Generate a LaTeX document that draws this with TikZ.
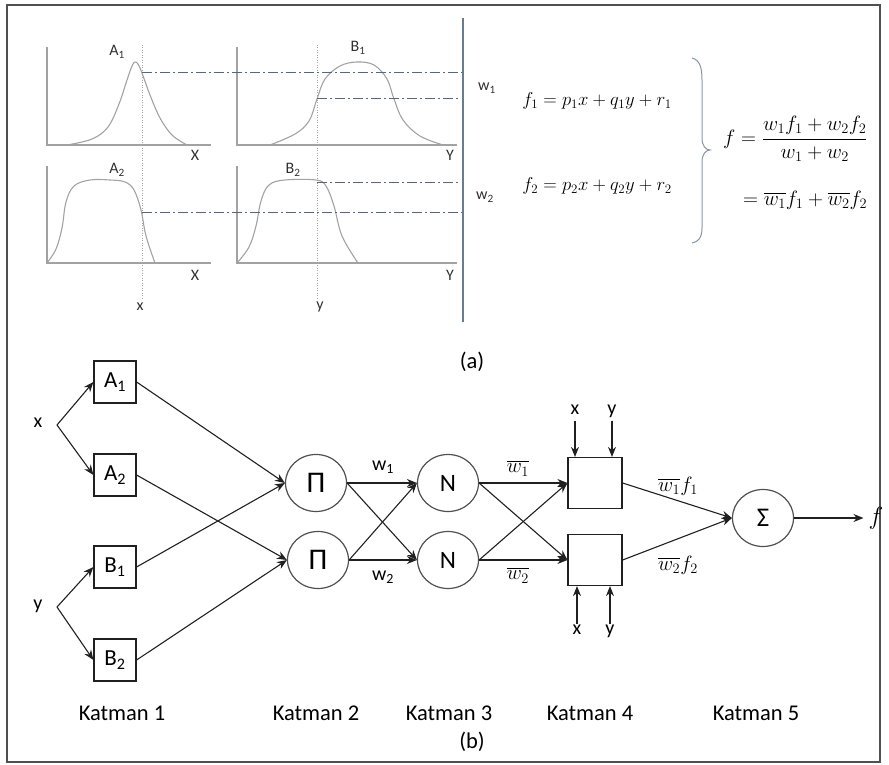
\documentclass[tikz,border=0pt]{standalone}
\usepackage{amsmath}
\usepackage{graphicx}
\usepackage{fontspec}
\setmainfont{Carlito}
\usepackage{tikz}
\usetikzlibrary{arrows.meta,shapes.geometric}

\definecolor{framegray}{HTML}{505050}
\definecolor{curvegray}{HTML}{A2A2A2}
\definecolor{labgray}{HTML}{303030}
\definecolor{dashblue}{HTML}{56677C}
\definecolor{sepblue}{HTML}{6A7A90}
\definecolor{netline}{HTML}{202020}
\definecolor{circgray}{HTML}{505050}

\tikzset{
  katbox/.style={draw=netline,line width=1.2pt,minimum width=42pt,minimum height=42pt,inner sep=0pt,font=\fontsize{23}{26}\selectfont},
  katcirc/.style={ellipse,draw=circgray,line width=1.2pt,minimum width=61pt,minimum height=57pt,inner sep=0pt,font=\fontsize{25}{28}\selectfont},
  rulebox/.style={draw=netline,line width=1.2pt,minimum width=54pt,minimum height=51pt,inner sep=0pt},
  conn/.style={->,draw=netline,line width=1.1pt},
  lbl/.style={font=\fontsize{20}{24}\selectfont,inner sep=1pt,text height=1.5ex,text depth=.3ex},
  laylbl/.style={font=\fontsize{22.5}{26}\selectfont,inner sep=1pt},
  plotlbl/.style={font=\fontsize{16}{19}\selectfont,text=labgray,inner sep=1pt},
  mathlbl/.style={font=\fontsize{20}{24}\selectfont,inner sep=1pt},
  mfcurve/.style={draw=curvegray,line width=1.1pt},
  cutline/.style={draw=dashblue,line width=1pt,dash pattern=on 10pt off 3pt on 2pt off 3pt},
  guideline/.style={draw=curvegray,line width=0.8pt,dash pattern=on 1pt off 1.5pt},
}

\begin{document}
\begin{tikzpicture}[x=1pt,y=-1pt,>={Stealth[length=10pt,width=8pt]}]
\useasboundingbox (0,0) rectangle (889,765);
\draw[framegray,line width=1.5pt] (7,5) rectangle (880,762);

% (a) uyelik fonksiyonlari
\draw[mfcurve] (47,47) -- (47,145) -- (211,145);
\draw[mfcurve] (237,47) -- (237,145) -- (457,145);
\draw[mfcurve] (47,166) -- (47,263) -- (211,263);
\draw[mfcurve] (237,166) -- (237,263) -- (457,263);

\draw[mfcurve] plot[smooth,tension=0.6] coordinates {(67,145) (92,139) (108,127) (119,104) (127,80) (132,66) (135,62) (138,64) (142,73) (150,95) (160,118) (172,135) (187,145)};
\draw[mfcurve] plot[smooth,tension=0.6] coordinates {(270,145) (295,134) (309,121) (317,99) (325,79) (340,66) (357,62) (374,65) (387,79) (394,99) (403,120) (420,136) (443,145)};
\draw[mfcurve] plot[smooth,tension=0.6] coordinates {(47,263) (56,249) (62,228) (66,202) (74,186) (90,180) (110,180) (125,182) (134,190) (141,210) (146,236) (155,263)};
\draw[mfcurve] plot[smooth,tension=0.6] coordinates {(237,263) (249,247) (256,226) (261,201) (269,185) (285,180) (316,180) (326,186) (334,206) (342,236) (358,263)};

\draw[guideline] (142,45) -- (142,298);
\draw[guideline] (317,45) -- (317,298);

\draw[cutline] (142,73) -- (463,73);
\draw[cutline] (317,99) -- (458,99);
\draw[cutline] (317,182) -- (458,182);
\draw[cutline] (142,212) -- (463,212);

\draw[sepblue,line width=1.1pt] (463,18) -- (463,322);

\node[plotlbl] (la1) at (117,52) {A\textsubscript{1}};
\node[plotlbl] (lb1) at (358,48) {B\textsubscript{1}};
\node[plotlbl] (la2) at (117,170) {A\textsubscript{2}};
\node[plotlbl] (lb2) at (293,170) {B\textsubscript{2}};
\node[plotlbl] (ax1) at (195,155) {X};
\node[plotlbl] (ay1) at (450,155) {Y};
\node[plotlbl] (ax2) at (195,275) {X};
\node[plotlbl] (ay2) at (450,275) {Y};
\node[plotlbl] (vx) at (140,307) {x};
\node[plotlbl] (vy) at (320,307) {y};

\node[plotlbl] (tw1) at (487,88) {w\textsubscript{1}};
\node[plotlbl] (tw2) at (485,197) {w\textsubscript{2}};
\node[mathlbl,font=\fontsize{18}{22}\selectfont] (f1) at (597,101) {\scalebox{1.08}{$f_1 = p_1x + q_1y + r_1$}};
\node[mathlbl,font=\fontsize{18}{22}\selectfont] (f2) at (597,186) {\scalebox{1.08}{$f_2 = p_2x + q_2y + r_2$}};

\draw[sepblue!80,line width=1pt] (692,58) .. controls (700,60) and (702,68) .. (702,80) -- (702,138)
  .. controls (702,146) and (706,150) .. (710,150) .. controls (706,150) and (702,154) .. (702,162)
  -- (702,228) .. controls (702,238) and (698,242) .. (692,243);

\node[mathlbl,anchor=west] (fdef) at (722,139) {$f = \dfrac{w_1f_1 + w_2f_2}{w_1 + w_2}$};
\node[mathlbl,anchor=west] (fsum) at (742,200) {$= \overline{w_1}f_1 + \overline{w_2}f_2$};

\node[laylbl] (capa) at (472,362) {(a)};

% (b) ANFIS yapisi
\node[lbl] (x) at (38,425) {x};
\node[lbl] (y) at (38,607) {y};
\coordinate (xb) at (57,425);
\coordinate (yb) at (57,607);

\node[katbox] (a1) at (115,382) {A\textsubscript{1}};
\node[katbox] (a2) at (115,475) {A\textsubscript{2}};
\node[katbox] (b1) at (115,567) {B\textsubscript{1}};
\node[katbox] (b2) at (115,660) {B\textsubscript{2}};

\node[katcirc,font=\fontsize{30}{32}\selectfont] (p1) at (316,483) {Π};
\node[katcirc,font=\fontsize{30}{32}\selectfont] (p2) at (318,560) {Π};
\node[katcirc] (n1) at (448,483) {N};
\node[katcirc] (n2) at (448,560) {N};

\node[rulebox] (r1) at (595,483) {};
\node[rulebox] (r2) at (595,560) {};

\node[katcirc,font=\fontsize{27}{30}\selectfont] (sig) at (763,518) {Σ};
\node[mathlbl,font=\fontsize{24}{28}\selectfont,inner sep=5pt] (fo) at (876,518) {$f$};

\draw[conn] (xb) -- (a1.west);
\draw[conn] (xb) -- (a2.west);
\draw[conn] (yb) -- (b1.west);
\draw[conn] (yb) -- (b2.west);

\draw[conn] (a1.east) -- (p1.west);
\draw[conn] (b1.east) -- (p1.west);
\draw[conn] (a2.east) -- (p2.west);
\draw[conn] (b2.east) -- (p2.west);

\draw[conn] (p1.east) -- (n1.west);
\draw[conn] (p1.east) -- (n2.west);
\draw[conn] (p2.east) -- (n1.west);
\draw[conn] (p2.east) -- (n2.west);

\draw[conn] (n1.east) -- (r1.west);
\draw[conn] (n1.east) -- (r2.west);
\draw[conn] (n2.east) -- (r1.west);
\draw[conn] (n2.east) -- (r2.west);

\draw[conn] (r1.east) -- (sig.west);
\draw[conn] (r2.east) -- (sig.west);
\draw[conn] (sig.east) -- (fo);

\node[lbl] (w1) at (383,468) {w\textsubscript{1}};
\node[lbl] (w2) at (383,578) {w\textsubscript{2}};
\node[mathlbl] (wb1) at (518,468) {$\overline{w_1}$};
\node[mathlbl] (wb2) at (518,575) {$\overline{w_2}$};
\node[mathlbl] (wf1) at (678,486) {$\overline{w_1}f_1$};
\node[mathlbl] (wf2) at (678,565) {$\overline{w_2}f_2$};

% kural girisleri
\node[lbl] (xt) at (575,412) {x};
\node[lbl] (yt) at (612,412) {y};
\node[lbl] (xd) at (577,632) {x};
\node[lbl] (yd) at (610,632) {y};
\draw[conn,shorten <=3pt] (xt) -- (xt |- r1.north);
\draw[conn,shorten <=3pt] (yt) -- (yt |- r1.north);
\draw[conn,shorten <=3pt] (xd) -- (xd |- r2.south);
\draw[conn,shorten <=3pt] (yd) -- (yd |- r2.south);

\node[laylbl] (k1) at (122,713) {Katman 1};
\node[laylbl] (k2) at (316,713) {Katman 2};
\node[laylbl] (k3) at (449,713) {Katman 3};
\node[laylbl] (k4) at (590,713) {Katman 4};
\node[laylbl] (k5) at (756,713) {Katman 5};
\node[laylbl] (capb) at (472,742) {(b)};
\end{tikzpicture}
\end{document}
